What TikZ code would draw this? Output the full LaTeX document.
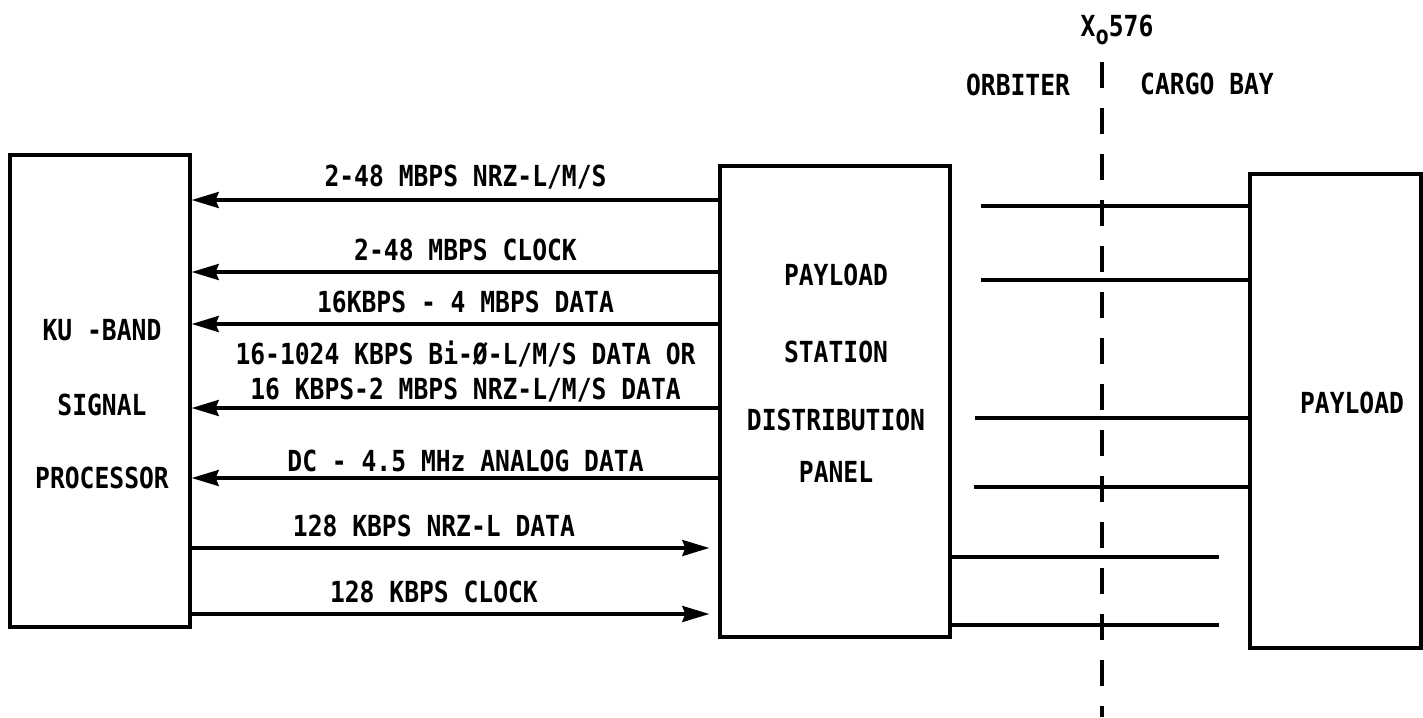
\documentclass[tikz,border=0pt]{standalone}
\usepackage{fontspec}
\newfontfamily\leroy[FakeStretch=0.85]{DejaVu Sans Mono}
\usetikzlibrary{arrows.meta,positioning}

\begin{document}
\begin{tikzpicture}[x=1pt,y=-1pt,>={Stealth[length=27pt,width=16pt,inset=3pt]},
  font=\leroy\bfseries\fontsize{29}{35}\selectfont,
  blk/.style={draw,line width=3.4pt,inner sep=0pt},
  sig/.style={line width=3.2pt},
  lbl/.style={inner sep=0pt,above=9pt,align=center},
  bound/.style={line width=4.5pt,dash pattern=on 26pt off 20pt}]
  \useasboundingbox (0,0) rectangle (1423,717);
  % the three units
  \node[blk,minimum width=180pt,minimum height=472pt] (ksp) at (100,391) {};
  \node[blk,minimum width=230pt,minimum height=471pt] (pdp) at (835,401.5) {};
  \node[blk,minimum width=171pt,minimum height=474pt] (pl) at (1335.5,411) {};
  \foreach \t/\y [count=\i] in {KU -BAND/330,SIGNAL/405,PROCESSOR/478}
    \node (kspt\i) at (102,\y) {\t};
  \foreach \t/\y [count=\i] in {PAYLOAD/275,STATION/352,DISTRIBUTION/420,PANEL/472}
    \node (pdpt\i) at (836,\y) {\t};
  \node (plt) at (1352,403) {PAYLOAD};
  % orbiter / cargo bay boundary
  \draw[bound] (1102,62) -- (1102,717);
  \node (xo) at (1117,30) {X\raisebox{-8pt}{\fontsize{26}{26}\selectfont o}576};
  \node (orb) at (1018,85) {ORBITER};
  \node (cb) at (1207,84) {CARGO BAY};
  % signals into the processor
  \draw[sig,->] (pdp.west |- 0,200) -- node[lbl,pos=0.48] {2-48 MBPS NRZ-L/M/S} (ksp.east |- 0,200);
  \draw[sig,->] (pdp.west |- 0,272) -- node[lbl,pos=0.48] {2-48 MBPS CLOCK} (ksp.east |- 0,272);
  \draw[sig,->] (pdp.west |- 0,324) -- node[lbl,pos=0.48] {16KBPS - 4 MBPS DATA} (ksp.east |- 0,324);
  \draw[sig,->] (pdp.west |- 0,408) -- node[lbl,pos=0.48,above=4pt] {16-1024 KBPS Bi-Ø-L/M/S DATA OR\\16 KBPS-2 MBPS NRZ-L/M/S DATA} (ksp.east |- 0,408);
  \draw[sig,->] (pdp.west |- 0,478) -- node[lbl,pos=0.48,above=4pt] {DC - 4.5 MHz ANALOG DATA} (ksp.east |- 0,478);
  % signals out of the processor
  \draw[sig,->,shorten >=9pt] (ksp.east |- 0,548) -- node[lbl,pos=0.46] {128 KBPS NRZ-L DATA} (pdp.west |- 0,548);
  \draw[sig,->,shorten >=9pt] (ksp.east |- 0,614) -- node[lbl,pos=0.46] {128 KBPS CLOCK} (pdp.west |- 0,614);
  % panel to payload
  \foreach \x/\y [count=\i] in {981/206,981/280,975/418,974/487} {
    \coordinate (w\i) at (\x,\y);
    \draw[sig] (w\i) -- (pl.west |- w\i);
  }
  \foreach \y [count=\i] in {557,625} {
    \coordinate (e\i) at (1219,\y);
    \draw[sig] (pdp.east |- e\i) -- (e\i);
  }
\end{tikzpicture}
\end{document}
